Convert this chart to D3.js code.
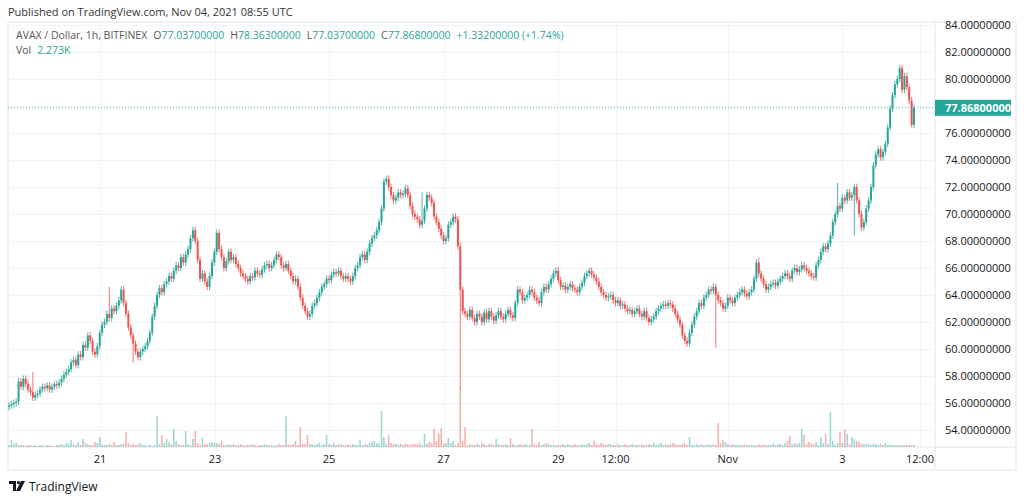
<!DOCTYPE html>
<html><head><meta charset="utf-8">
<script src="https://cdn.jsdelivr.net/npm/d3@7"></script>
<style>body{margin:0;background:#fff;font-family:"Open Sans",Roboto,sans-serif}</style>
</head><body><svg id="c" width="1024" height="501"></svg>
<script>
const closes = [
55.8,55.9,56.0,56.1,57.6,57.2,57.8,57.4,57.0,56.8,56.4,56.6,
56.7,57.0,57.2,57.1,57.3,57.0,57.2,57.4,57.3,57.5,57.8,58.1,
58.3,58.5,59.0,59.2,58.8,59.6,59.4,60.3,60.1,61.0,60.6,59.8,
59.6,60.2,61.2,61.8,62.0,62.6,62.3,63.0,62.8,63.2,63.6,64.4,
63.4,62.6,61.6,61.0,60.4,59.8,59.4,59.8,60.0,60.2,60.6,61.2,
62.4,63.2,64.0,64.5,64.2,64.8,65.0,65.4,65.2,65.8,66.2,66.0,
66.8,66.4,67.0,67.4,68.2,68.8,68.0,66.6,65.2,65.6,65.0,64.6,
65.4,66.4,67.2,68.6,67.4,66.8,66.0,66.5,67.2,66.6,66.8,66.3,
66.0,65.6,65.4,65.2,65.0,65.4,65.3,65.8,65.6,65.5,65.9,66.2,
66.3,66.0,66.2,66.6,67.0,66.8,66.2,66.0,66.3,65.8,65.4,65.0,
65.2,64.6,63.8,63.2,62.8,62.4,62.6,63.2,63.4,63.8,64.2,64.6,
64.8,65.2,65.1,65.5,65.7,65.6,65.8,65.4,65.2,65.4,65.2,65.0,
65.4,66.0,66.2,66.8,67.0,66.6,67.2,67.8,68.2,68.4,68.8,69.4,
70.4,72.4,72.6,72.0,71.4,71.0,71.2,71.6,71.4,71.5,71.9,71.4,
70.6,70.0,69.8,69.6,69.2,69.5,70.4,71.4,71.2,70.8,69.8,69.4,
68.9,68.4,68.0,68.2,69.2,69.4,69.8,69.6,67.6,64.4,62.8,62.6,
62.4,62.9,62.3,62.0,62.6,62.4,62.0,62.7,62.2,62.8,62.4,62.1,
62.5,62.8,62.4,62.2,62.6,62.9,62.5,62.3,63.4,64.4,64.2,63.6,
63.8,64.0,64.4,64.2,63.8,63.6,63.4,64.2,64.6,64.4,64.8,65.2,
65.6,65.8,65.1,64.6,64.7,64.4,64.6,64.8,64.5,64.4,64.2,64.6,
64.9,65.4,65.6,65.8,65.5,65.3,65.0,64.6,64.2,64.0,63.8,63.9,
64.0,63.6,63.4,63.6,63.2,63.3,63.0,62.8,62.9,62.6,62.8,63.0,
62.6,62.4,62.8,62.3,62.0,62.2,62.4,62.8,63.0,63.2,63.3,63.2,
63.4,63.3,63.0,62.6,62.2,61.8,61.0,60.6,60.4,61.2,61.8,62.4,
62.8,63.4,63.2,63.8,64.0,64.4,64.3,64.6,64.0,63.6,63.4,63.0,
63.2,63.8,63.6,63.4,63.8,64.0,64.2,64.4,64.1,63.9,64.2,64.4,
65.2,66.4,65.6,65.2,64.8,64.4,64.6,64.8,64.9,64.7,65.0,65.2,
65.4,65.6,65.4,65.2,65.8,66.0,65.7,65.9,66.2,66.0,65.8,65.6,
65.4,65.3,66.2,66.6,67.2,67.6,67.4,67.8,68.4,69.4,70.0,70.6,
70.4,71.2,71.0,71.6,71.2,71.4,72.0,71.0,70.0,69.0,69.4,70.4,
71.0,72.0,73.6,74.4,74.8,74.2,74.6,75.2,76.4,77.8,78.8,79.6,
80.0,80.8,79.2,80.2,79.4,78.4,76.6,77.868];
const firstOpen = 55.7;
// notable long wicks: [candle index, low or high price]
const wickLows = [[189,57.0],[52,59.0],[296,60.1],[354,68.4],[378,76.4]];
const wickHighs = [[10,58.3],[42,64.6],[173,71.6],[314,66.8],[347,72.3],[373,81.0]];
const volumes = [
2,7,3,4,2,2,2,1,2,2,1,2,
1,2,2,1,2,2,1,1,2,2,3,2,
4,3,7,3,2,5,2,8,4,3,2,2,
5,4,10,3,2,2,3,2,5,2,2,3,
3,15,4,2,3,2,3,4,2,2,1,2,
1,2,31,3,12,4,8,5,3,18,6,3,
2,2,16,3,2,8,16,4,2,9,3,3,
4,5,4,4,3,6,2,2,3,2,3,2,
2,3,2,2,2,2,3,2,1,2,2,3,
2,2,2,1,2,3,2,2,31,3,2,3,
6,2,20,3,3,12,3,3,2,3,4,2,
3,12,3,2,4,2,3,3,2,2,3,2,
3,2,2,7,2,3,2,4,5,6,4,3,
36,10,3,12,4,3,3,2,3,2,3,3,
2,3,3,3,4,2,13,3,5,4,18,6,
13,19,3,4,9,4,6,2,4,60,6,20,
2,3,2,2,3,2,4,3,2,3,3,2,
8,3,2,2,3,2,9,3,2,2,3,2,
3,2,2,18,3,2,5,2,3,4,3,2,
2,2,2,2,3,2,3,2,2,3,2,2,
3,2,3,4,2,6,3,2,4,3,2,3,
3,2,2,3,2,2,3,2,2,3,2,2,
2,3,2,2,3,2,4,2,3,4,2,3,
2,3,4,3,2,2,3,4,2,10,2,2,
3,2,3,2,2,3,2,3,2,24,4,7,
5,3,2,3,2,2,2,2,3,2,2,2,
2,2,3,2,3,2,2,2,3,2,3,3,
2,4,6,11,3,4,3,4,18,12,3,5,
4,3,5,2,10,4,13,3,35,6,2,4,
15,4,18,13,3,10,8,6,5,3,3,3,
3,2,3,3,2,3,2,4];
const yTicks = [54,56,58,60,62,64,66,68,70,72,74,76,78,80,82,84];
const xTickLabels = ["21","23","25","27","29","12:00","Nov","3","12:00"];
const xTickPos = [38.1,86.3,134,182,230,254,301,349,381.5];

const svg = d3.select("#c");
const L=8,R=935,T=22,B=447;
const x = d3.scaleLinear().domain([0,379]).range([9,914]);
const y = d3.scaleLinear().domain([54,84]).range([430,25]);
const vy = d3.scaleLinear().domain([0,60]).range([0,60]);
const up="#26a69a", dn="#ef5350";

svg.append("text").attr("x",8).attr("y",16).attr("font-size",11).attr("fill","#333").text("Published on TradingView.com, Nov 04, 2021 08:55 UTC");
svg.append("rect").attr("x",L).attr("y",T).attr("width",1016-L).attr("height",470-T).attr("fill","none").attr("stroke","#e0e3eb");
svg.append("line").attr("x1",R).attr("x2",R).attr("y1",T).attr("y2",470).attr("stroke","#e0e3eb");
svg.append("line").attr("x1",L).attr("x2",1016).attr("y1",B).attr("y2",B).attr("stroke","#e0e3eb");
svg.append("g").selectAll("line").data(yTicks).join("line").attr("x1",L).attr("x2",R)
 .attr("y1",d=>y(d)+.5).attr("y2",d=>y(d)+.5).attr("stroke","#f0f3fa");
svg.append("g").selectAll("line").data(xTickPos).join("line").attr("y1",T).attr("y2",B)
 .attr("x1",d=>Math.round(x(d))+.5).attr("x2",d=>Math.round(x(d))+.5).attr("stroke","#f0f3fa");
svg.append("g").selectAll("text").data(yTicks).join("text").attr("x",945).attr("y",d=>y(d)+4)
 .attr("font-size",11).attr("fill","#131722").text(d=>d.toFixed(8));
svg.append("g").selectAll("text").data(xTickLabels).join("text").attr("x",(d,i)=>x(xTickPos[i])).attr("y",463)
 .attr("text-anchor","middle").attr("font-size",11).attr("fill","#131722").text(d=>d);

const candles = closes.map((c,i)=>{
  const o = i===0?firstOpen:closes[i-1];
  let hi=Math.max(o,c)+0.25, lo=Math.min(o,c)-0.25;
  wickLows.forEach(w=>{if(w[0]===i)lo=w[1];});
  wickHighs.forEach(w=>{if(w[0]===i)hi=w[1];});
  return {i,o,c,hi,lo,v:volumes[i]||2};
});
svg.append("g").selectAll("rect").data(candles).join("rect")
 .attr("x",d=>x(d.i)-0.8).attr("width",1.6).attr("y",d=>B-vy(d.v)).attr("height",d=>vy(d.v))
 .attr("fill",d=>d.c>=d.o?up:dn).attr("opacity",0.45);
const g=svg.append("g");
g.selectAll("line").data(candles).join("line").attr("x1",d=>x(d.i)).attr("x2",d=>x(d.i))
 .attr("y1",d=>y(d.hi)).attr("y2",d=>y(d.lo)).attr("stroke",d=>d.c>=d.o?up:dn).attr("stroke-width",1).attr("opacity",0.8);
g.selectAll("rect").data(candles).join("rect").attr("x",d=>x(d.i)-1).attr("width",2)
 .attr("y",d=>y(Math.max(d.o,d.c))).attr("height",d=>Math.max(1,Math.abs(y(d.o)-y(d.c))))
 .attr("fill",d=>d.c>=d.o?up:dn);
const last=closes[closes.length-1];
svg.append("line").attr("x1",L).attr("x2",R).attr("y1",y(last)).attr("y2",y(last))
 .attr("stroke",up).attr("stroke-dasharray","1,2").attr("opacity",0.8);
svg.append("rect").attr("x",R).attr("y",y(last)-8).attr("width",76).attr("height",16).attr("fill",up);
svg.append("text").attr("x",945).attr("y",y(last)+4).attr("font-size",11).attr("fill","#fff").attr("font-weight","bold").text(last.toFixed(8));
const lg=svg.append("text").attr("x",16).attr("y",39).attr("font-size",10.5);
lg.append("tspan").attr("fill","#555").text("AVAX / Dollar, 1h, BITFINEX");
lg.append("tspan").attr("fill","#555").attr("dx",6).text("O");
lg.append("tspan").attr("fill",up).text("77.03700000");
lg.append("tspan").attr("fill","#555").attr("dx",6).text("H");
lg.append("tspan").attr("fill",up).text("78.36300000");
lg.append("tspan").attr("fill","#555").attr("dx",6).text("L");
lg.append("tspan").attr("fill",up).text("77.03700000");
lg.append("tspan").attr("fill","#555").attr("dx",6).text("C");
lg.append("tspan").attr("fill",up).text("77.86800000");
lg.append("tspan").attr("fill",up).attr("dx",6).text("+1.33200000 (+1.74%)");
const vl=svg.append("text").attr("x",16).attr("y",54).attr("font-size",10.5);
vl.append("tspan").attr("fill","#555").text("Vol");
vl.append("tspan").attr("fill",up).attr("dx",6).text("2.273K");
const lgG=svg.append("g").attr("transform","translate(9,481)");
lgG.append("path").attr("d","M0 0H7V10H4V3H0Z").attr("fill","#131722");
lgG.append("circle").attr("cx",9.5).attr("cy",1.6).attr("r",1.6).attr("fill","#131722");
lgG.append("path").attr("d","M12 0H16L11 10H7Z").attr("fill","#131722");
svg.append("text").attr("x",29).attr("y",491).attr("font-size",12).attr("fill","#131722").text("TradingView");
</script></body></html>
